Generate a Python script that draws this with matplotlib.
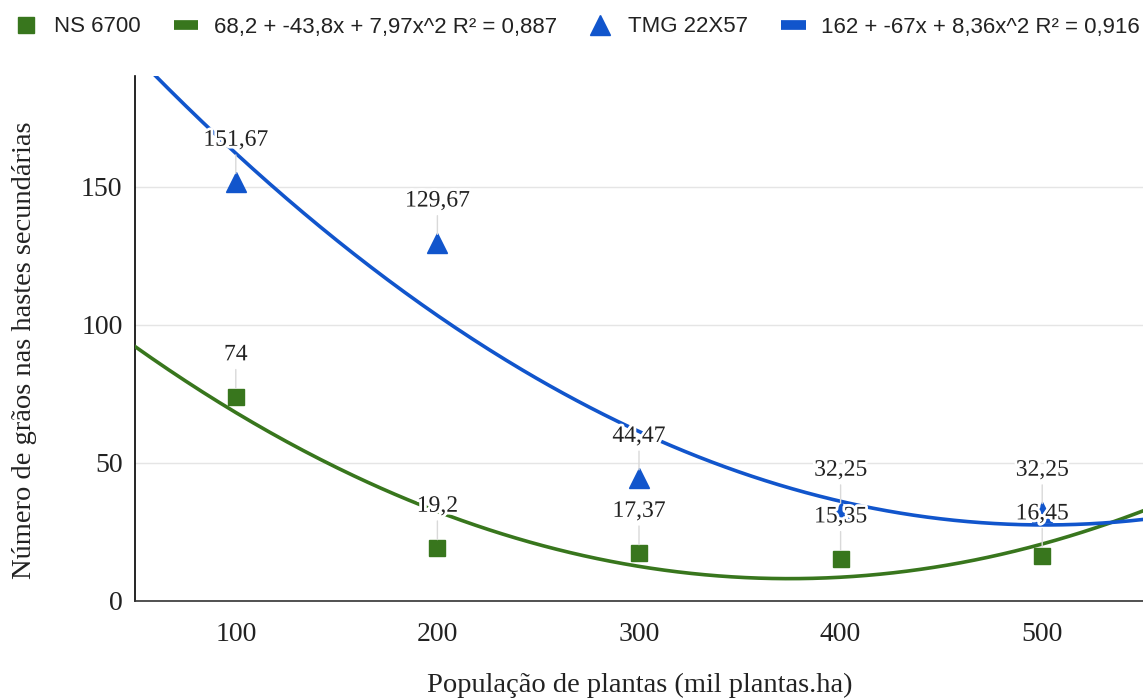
import numpy as np
import matplotlib
matplotlib.use('Agg')
import matplotlib.pyplot as plt
import matplotlib.patheffects as pe
from matplotlib.lines import Line2D

# Data
populacao = [100, 200, 300, 400, 500]
ns6700 = [74, 19.2, 17.37, 15.35, 16.45]
tmg22x57 = [151.67, 129.67, 44.47, 32.25, 32.25]
ns_labels = ['74', '19,2', '17,37', '15,35', '16,45']
tmg_labels = ['151,67', '129,67', '44,47', '32,25', '32,25']
ns_eq = '68,2 + -43,8x + 7,97x^2 R² = 0,887'
tmg_eq = '162 + -67x + 8,36x^2 R² = 0,916'

GREEN = '#38761d'
BLUE = '#1155cc'
SERIF = 'Liberation Serif'
SANS = 'Liberation Sans'

fig = plt.figure(figsize=(11.43, 6.99), dpi=100)
ax = fig.add_axes([135 / 1143, 1 - 601 / 699, 1 - 135 / 1143, (601 - 76) / 699])


def trend(y):
    # google sheets polynomial trendline, x counted from the first point (0, 1, 2 ...)
    t = (np.array(populacao) - populacao[0]) / 100.0
    coef = np.polyfit(t, y, 2)
    tt = np.linspace(-0.5, 4.5, 300)
    return populacao[0] + tt * 100, np.polyval(coef, tt)


# points
ax.plot(populacao, ns6700, 's', color=GREEN, markersize=12, zorder=3)
ax.plot(populacao, tmg22x57, '^', color=BLUE, markersize=15, zorder=3)

# trendlines
xs, ys = trend(ns6700)
ax.plot(xs, ys, color=GREEN, lw=2.6, zorder=4)
xs, ys = trend(tmg22x57)
ax.plot(xs, ys, color=BLUE, lw=2.6, zorder=4)

# data labels with leader lines
halo = [pe.withStroke(linewidth=4, foreground='white')]
for vals, labs in [(ns6700, ns_labels), (tmg22x57, tmg_labels)]:
    for x, v, lab in zip(populacao, vals, labs):
        ann = ax.annotate(lab, xy=(x, v), xytext=(0, 30), textcoords='offset points',
                          ha='center', va='center', fontsize=17, family=SERIF,
                          color='#222222', zorder=6,
                          arrowprops=dict(arrowstyle='-', color='#d9d9d9', lw=1,
                                          shrinkA=1, shrinkB=6))
        ann.set_path_effects(halo)
        ann.arrow_patch.set_zorder(2)

ax.set_xlim(50, 550)
ax.set_ylim(0, 190)
ax.set_xticks(populacao)
ax.set_yticks([0, 50, 100, 150])
ax.tick_params(length=0, labelsize=20, labelcolor='#222222')
ax.tick_params(axis='x', pad=15)
ax.tick_params(axis='y', pad=9)
for lab in ax.get_xticklabels() + ax.get_yticklabels():
    lab.set_family(SERIF)
ax.grid(axis='y', color='#e5e5e5', lw=1)
ax.set_axisbelow(True)
for s in ['top', 'right']:
    ax.spines[s].set_visible(False)
ax.spines['left'].set_color('black')
ax.spines['bottom'].set_color('#333333')
ax.spines['left'].set_linewidth(1.2)
ax.spines['bottom'].set_linewidth(1.2)

fig.text(25 / 1143, 1 - 350 / 699, 'Número de grãos nas hastes secundárias',
         rotation=90, ha='center', va='center', fontsize=20.5, family=SERIF, color='#222222')
fig.text(640 / 1143, 1 - 685 / 699, 'População de plantas (mil plantas.ha)',
         ha='center', va='center', fontsize=20.5, family=SERIF, color='#222222')

# legend, split in two groups like the original
leg_kw = dict(ncol=2, frameon=False, handlelength=1.1, handletextpad=0.7,
              columnspacing=1.5, borderaxespad=0, borderpad=0,
              prop={'family': SANS, 'size': 16})
h1 = [Line2D([], [], ls='none', marker='s', color=GREEN, markersize=12),
      Line2D([], [], color=GREEN, lw=7, solid_capstyle='butt')]
h2 = [Line2D([], [], ls='none', marker='^', color=BLUE, markersize=15),
      Line2D([], [], color=BLUE, lw=7, solid_capstyle='butt')]
l1 = fig.legend(h1, ['NS 6700', ns_eq], loc='center left', bbox_to_anchor=(14 / 1143, 1 - 27 / 699), **leg_kw)
l2 = fig.legend(h2, ['TMG 22X57', tmg_eq], loc='center left', bbox_to_anchor=(588 / 1143, 1 - 27 / 699), **leg_kw)
for l in (l1, l2):
    for t in l.get_texts():
        t.set_color('#222222')

fig.savefig('out.png', dpi=100)
